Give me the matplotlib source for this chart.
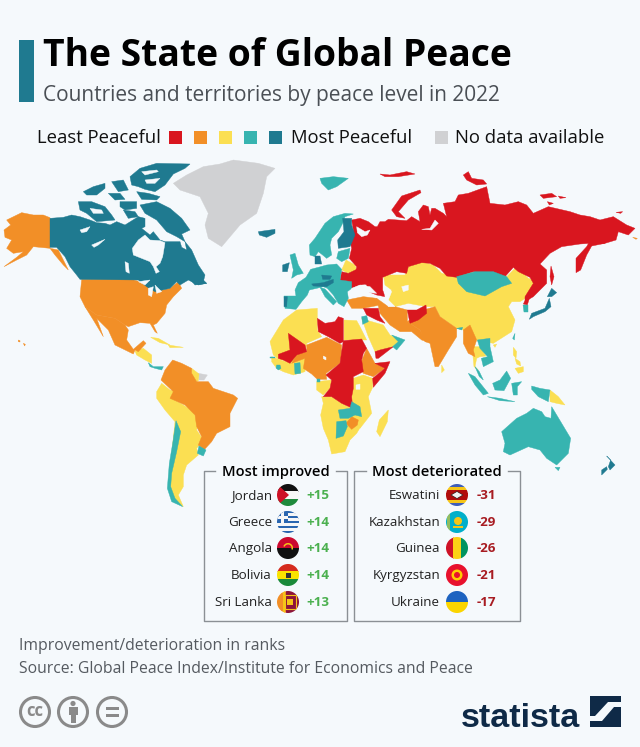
import matplotlib
matplotlib.use("Agg")
import matplotlib.pyplot as plt
from matplotlib.patches import Polygon, Circle, Rectangle, Wedge

BG = "#f5f9fc"
RED, ORG, YEL, TEA, DRK, GRY = "#d9161f", "#f28f27", "#fbdf52", "#37b4b0", "#1f7a90", "#d0d1d3"

TITLE = "The State of Global Peace"
SUBTITLE = "Countries and territories by peace level in 2022"
LEVEL_COLOURS = [RED, ORG, YEL, TEA, DRK]
IMPROVED_NAMES = ["Jordan", "Greece", "Angola", "Bolivia", "Sri Lanka"]
IMPROVED_VALUES = ["+15", "+14", "+14", "+14", "+13"]
WORSE_NAMES = ["Eswatini", "Kazakhstan", "Guinea", "Kyrgyzstan", "Ukraine"]
WORSE_VALUES = ["-31", "-29", "-26", "-21", "-17"]
NOTES = ["Improvement/deterioration in ranks",
         "Source: Global Peace Index/Institute for Economics and Peace"]

L = (0, 150); R = (320, 150); E = (270, 190); A = (260, 300); S = (140, 380); P = (400, 290)
C = (70, 160); W = (340, 170); X = (490, 190)

REGIONS_GREY = [
 (L, [(520,100),(560,75),(610,50),(660,42),(700,30),(775,40),(825,55),(800,80),(790,130),(770,190),(720,225),(665,290),(625,265),(615,225),(625,190),(600,140),(540,120)]),
 (L, [(595,670),(622,675),(612,690),(597,690)]),
]
REGIONS_DARK = [
 # Canada
 (C, [(-60,175),(-20,172),(5,165),(30,170),(60,180),(80,188),(105,190),(120,195),(140,185),(165,195),(205,170),(225,175),(225,200),(215,205),(240,225),(250,215),(270,240),(285,245),(330,245),(335,262),(350,270),(345,245),(365,270),(385,315),(405,345),(400,365),(410,370),(385,375),(355,360),(330,375),(320,365),(300,385),(255,395),(230,380),(205,360),(30,358),(20,345),(0,320),(-15,290),(-40,262),(-60,262)]),
 (C, [(180,50),(210,25),(260,10),(360,12),(345,25),(310,42),(285,75),(255,95),(225,88),(205,80),(185,75)]),
 (C, [(200,95),(235,100),(270,110),(260,120),(215,118)]),
 (C, [(210,135),(260,125),(300,145),(335,175),(360,210),(335,222),(345,245),(320,230),(290,215),(260,180),(225,160)]),
 (C, [(25,125),(65,125),(105,140),(125,165),(135,180),(80,185),(50,160),(30,150)]),
 (C, [(40,95),(70,80),(105,70),(105,85),(80,105),(50,105)]),
 (C, [(125,65),(160,60),(175,90),(145,95)]),
 (C, [(150,125),(200,125),(200,145),(165,150),(150,140)]),
 (C, [(160,150),(195,155),(205,170),(175,175)]),
 (C, [(115,100),(150,100),(165,118),(135,120)]),
 (C, [(355,352),(385,345),(410,370),(375,375)]),
 (L, [(775,245),(825,238),(825,250),(800,262),(778,255)]),
 # Japan, New Zealand
 (X, [(118,388),(125,370),(165,355),(178,325),(183,350),(165,365),(130,380)]),
 (X, [(172,320),(185,295),(200,308),(185,320)]),
 (R, [(860,918),(885,945),(870,960),(865,950),(872,930)]),
 (R, [(845,960),(860,950),(862,958),(845,975)]),
 # Europe
 (E, [(218,85),(245,85),(245,105),(255,135),(240,170),(205,175),(203,150),(222,125)]),
 (E, [(42,320),(52,320),(50,350),(42,350)]),
 (E, [(38,225),(58,218),(52,245),(38,245)]),
 (E, [(135,198),(150,198),(155,222),(135,222)]),
 (E, [(125,282),(160,278),(190,268),(190,278),(170,290),(130,288)]),
 (E, [(155,255),(185,258),(180,268),(158,268)]),
]
REGIONS_TEAL = [
 (R, [(0,85),(40,80),(85,85),(50,110),(25,120),(5,100)]),
 (E, [(118,165),(135,145),(165,100),(190,80),(225,70),(250,72),(225,80),(218,100),(205,125),(185,145),(180,165),(185,195),(170,205),(158,195),(145,185),(135,200),(120,195)]),
 (E, [(205,185),(240,175),(235,205),(215,215),(200,205)]),
 (E, [(60,195),(75,190),(85,225),(100,250),(80,255),(65,265),(70,240)]),
 (E, [(42,318),(78,318),(75,300),(85,278),(108,262),(122,238),(145,232),(170,225),(200,222),(215,238),(210,270),(245,275),(245,295),(232,305),(235,325),(222,350),(205,340),(190,315),(172,295),(160,290),(140,295),(118,300),(112,315),(95,335),(78,358),(45,355)]),
 (E, [(150,292),(165,297),(200,335),(190,345),(165,320)]),
 (R, [(410,380),(465,365),(520,365),(560,380),(575,400),(545,410),(495,438),(440,425),(415,400)]),
 (X, [(100,345),(115,345),(115,365),(102,365)]),
 (R, [(578,565),(585,550),(583,570)]),
 (R, [(410,535),(428,532),(425,540)]),
 (R, [(472,570),(510,565),(510,590),(520,635),(490,650),(484,625),(503,620),(480,595)]),
 (R, [(465,650),(478,665),(490,690),(478,680)]),
 (R, [(125,500),(140,497),(145,515),(128,523)]),
 (R, [(215,555),(255,570),(230,600),(218,590),(235,575)]),
 (R, [(545,845),(590,805),(620,790),(640,775),(665,785),(675,800),(693,805),(695,770),(725,820),(752,865),(745,910),(710,945),(680,925),(660,900),(625,890),(570,915),(550,905),(555,880)]),
 (R, [(705,952),(720,952),(715,962)]),
 (A, [(235,330),(270,325),(275,305),(300,320),(305,350),(285,345),(265,355),(240,355)]),
 (A, [(230,365),(258,362),(262,380),(250,408),(228,415)]),
 (A, [(103,190),(120,188),(122,220),(105,222)]),
 (A, [(50,195),(60,195),(63,205),(55,210),(48,204)]),
 (A, [(170,238),(180,238),(180,246),(170,246)]),
 (A, [(30,170),(45,170),(45,174),(30,174)]),
 (P, [(205,250),(225,260),(265,310),(250,315),(225,285)]),
 (P, [(262,320),(300,325),(345,335),(300,332)]),
 (P, [(320,243),(332,265),(312,302),(285,300),(278,280),(300,270)]),
 (P, [(335,280),(365,275),(352,290),(352,315),(340,315)]),
 (P, [(395,288),(420,295),(450,300),(445,335),(415,320),(395,298)]),
 (S, [(108,122),(122,155),(110,215),(95,280),(92,320),(105,355),(128,380),(95,365),(82,325),(88,250),(98,190)]),
 (S, [(177,198),(198,210),(190,228),(172,220)]),
 (L, [(445,638),(460,650),(490,650),(485,660),(465,655),(450,650)]),
]
REGIONS_YELLOW = [
 (R, [(190,375),(255,375),(265,350),(305,335),(340,345),(365,370),(410,380),(465,365),(520,365),(560,380),(590,350),(625,385),(655,395),(640,430),(600,455),(575,455),(565,470),(585,510),(575,545),(520,580),(470,570),(430,540),(410,535),(360,500),(345,470),(320,470),(265,460),(225,470),(205,450),(215,420),(195,405)]),
 (R, [(520,585),(530,582),(525,592)]),
 (R, [(460,590),(480,590),(498,618),(480,620),(470,625),(465,650),(475,660),(462,650),(458,610)]),
 (R, [(365,645),(373,660),(365,668)]),
 (R, [(125,505),(145,512),(190,525),(210,555),(240,570),(220,590),(180,600),(165,605),(145,560)]),
 (R, [(72,510),(110,512),(120,530),(140,570),(72,570)]),
 (E, [(228,210),(255,225),(260,240),(235,250),(215,240)]),
 (A, [(30,125),(70,60),(110,30),(172,25),(172,90),(185,110),(140,130),(135,155),(100,190),(70,180),(58,180),(40,165)]),
 (A, [(35,170),(60,180),(100,190),(140,160),(135,215),(100,225),(70,215),(50,205),(35,185)]),
 (A, [(280,235),(310,225),(338,235),(338,262),(325,290),(335,340),(300,385),(280,345),(275,290)]),
 (A, [(185,290),(215,290),(245,310),(275,325),(270,345),(300,345),(310,350),(302,380),(290,400),(270,420),(255,455),(215,462),(205,420),(190,385),(182,345),(190,310)]),
 (A, [(170,245),(215,240),(210,265),(190,285),(170,270)]),
 (A, [(385,330),(382,365),(360,410),(350,395),(358,360)]),
 (P, [(450,300),(475,320),(495,345),(470,340),(450,335)]),
 (P, [(340,172),(350,185),(348,205),(340,195)]),
 (P, [(345,235),(370,230),(370,245),(355,250)]),
 (P, [(345,205),(360,215),(362,228),(350,222)]),
 (S, [(50,35),(65,10),(90,30),(108,35),(95,55),(130,75),(160,95),(175,130),(170,150),(190,180),(170,205),(175,225),(140,255),(130,285),(130,320),(115,345),(130,380),(100,360),(85,320),(105,125),(75,90),(50,55)]),
 (L, [(575,655),(597,672),(595,692),(590,695),(575,675)]),
 (L, [(405,603),(430,595),(455,615),(455,640),(435,630),(410,615)]),
 (L, [(452,562),(475,565),(510,585),(480,578)]),
 (L, [(505,585),(550,592),(510,593)]),
]
REGIONS_ORANGE = [
 (L, [(150,203),(150,295),(120,292),(100,290),(80,315),(50,330),(12,350),(50,322),(70,305),(40,310),(20,295),(35,270),(15,262),(12,240),(32,225),(20,210),(65,188),(100,195),(130,195)]),
 (L, [(150,295),(175,300),(205,360),(190,345),(165,315)]),
 (L, [(245,388),(390,387),(420,395),(450,410),(470,425),(510,415),(535,395),(545,415),(520,440),(500,465),(495,490),(470,520),(460,525),(472,550),(465,545),(450,520),(420,518),(385,530),(375,525),(345,505),(290,495),(255,470),(240,440)]),
 (L, [(255,470),(290,495),(345,505),(375,525),(385,540),(380,570),(400,598),(430,572),(438,580),(415,605),(405,600),(400,612),(345,585),(325,540),(290,505),(310,560),(280,510)]),
 (L, [(483,690),(495,660),(518,630),(545,640),(575,655),(575,670),(590,695),(625,695),(640,715),(700,735),(713,745),(690,790),(690,830),(650,850),(635,875),(612,900),(595,885),(605,860),(590,830),(585,795),(555,765),(510,745),(520,725)]),
 (L, [(55,570),(60,572),(60,576),(55,575)]),
 (L, [(70,580),(76,583),(74,588)]),
 (X, [(428,142),(442,145),(438,148)]),
 (R, [(80,450),(130,440),(170,445),(180,465),(130,475),(95,475)]),
 (R, [(170,445),(205,470),(225,470),(262,480),(262,515),(300,540),(320,575),(305,570),(275,545),(240,545),(210,525),(180,490)]),
 (R, [(262,515),(310,480),(345,470),(360,500),(410,535),(410,560),(385,600),(355,650),(345,650),(330,580),(315,575),(300,540)]),
 (R, [(430,540),(450,525),(470,570),(460,600),(465,620),(445,610),(430,580)]),
 (A, [(140,135),(200,112),(245,135),(245,160),(240,190),(198,220),(200,238),(172,238),(155,222),(130,205),(135,175),(95,190),(110,165),(140,155)]),
 (A, [(320,145),(345,190),(375,205),(340,230),(310,220),(300,195)]),
 (A, [(258,370),(275,350),(295,360),(292,375),(275,388)]),
]
REGIONS_RED = [
 # Russia, crop W, the far east shifted in from crop X
 (W, [(35,150),(60,145),(85,155),(105,170),(112,170),(120,155),(135,155),(145,148),(200,152),(215,140),(240,155),(235,125),(250,105),(265,110),(270,135),(275,115),(285,115),(310,130),(320,140),(310,100),(345,95),(355,75),(385,70),(440,50),(450,100),(495,105),(535,95),(560,105),(580,130),(625,110),(690,125),(720,135),(750,140),(780,150),(820,140),(860,165),(885,175),(865,195),(835,185),(828,210),(795,220),(750,220),(720,222),(665,230),(630,250),(600,282),(620,300),(620,340),(580,380),(555,395),(555,380),(580,340),(570,322),(535,305),(520,292),(495,320),(450,315),(400,305),(350,322),(320,318),(300,295),(270,280),(245,278),(205,290),(200,310),(170,305),(128,322),(128,360),(135,380),(110,375),(85,365),(80,345),(45,320),(50,290),(28,265),(35,235),(28,205),(40,180)]),
 (X, [(345,160),(300,152),(290,170),(258,205),(258,248),(272,240),(290,195),(305,168)]),
 (X, [(183,228),(192,260),(185,285),(180,260)]),
 (W, [(155,120),(185,78),(240,60),(243,68),(205,90),(175,125),(195,145),(170,140)]),
 (W, [(120,12),(150,15),(200,5),(225,12),(175,20),(135,20)]),
 (W, [(370,15),(385,5),(395,25),(430,30),(440,42),(410,45),(380,30)]),
 (X, [(150,15),(185,10),(200,20),(160,25)]),
 (X, [(205,18),(228,23),(210,25)]),
 (X, [(172,35),(190,40),(178,45)]),
 (X, [(378,67),(398,65),(392,70)]),
 (X, [(100,342),(115,312),(122,312),(112,345)]),
 (R, [(262,480),(290,480),(318,465),(320,490),(295,510),(270,520)]),
 (R, [(130,475),(175,475),(180,500),(195,520),(170,510),(140,495)]),
 (R, [(165,605),(180,600),(220,590),(175,625),(168,625)]),
 (E, [(215,245),(235,250),(260,238),(300,260),(300,280),(270,285),(245,295),(210,270)]),
 (A, [(85,100),(135,135),(140,155),(110,165),(90,190),(70,180),(55,175),(55,163),(90,150)]),
 (A, [(172,55),(195,70),(225,65),(235,50),(250,55),(250,125),(240,130),(205,110),(175,95)]),
 (A, [(250,122),(305,117),(320,145),(310,160),(305,180),(310,215),(280,230),(280,265),(275,290),(278,325),(245,310),(215,290),(190,290),(210,265),(215,240),(198,225),(240,190),(245,155)]),
 (A, [(345,190),(390,185),(375,220),(340,262),(338,235),(375,205)]),
]
REGIONS_WATER = [
 (C, [(187,265),(205,240),(225,225),(240,240),(270,242),(285,248),(278,290),(270,310),(258,320),(268,335),(258,340),(250,320),(240,305),(215,295),(190,285)]),
 (C, [(30,210),(60,200),(50,215),(35,218)]),
 (C, [(65,255),(105,238),(85,255),(72,262)]),
 (C, [(165,305),(175,310),(178,340),(168,335)]),
 (C, [(205,365),(240,360),(225,375)]),
 (C, [(235,385),(250,380),(245,410),(235,405)]),
 (C, [(255,375),(275,395),(260,400)]),
 (C, [(215,35),(260,30),(265,35),(225,45)]),
 (C, [(225,60),(270,55),(255,70),(230,70)]),
 (C, [(60,145),(95,150),(100,160),(70,160)]),
 (R, [(195,410),(215,425),(205,450),(225,470),(205,470),(195,440)]),
 (R, [(245,410),(265,405),(265,420),(250,425)]),
 (W, [(50,170),(75,185),(90,180),(82,195),(65,200),(52,188)]),
 (W, [(245,178),(270,175),(285,150),(295,160),(275,180)]),
 (E, [(245,295),(270,285),(300,290),(320,310),(265,305),(245,320)]),
 (A, [(288,255),(300,252),(300,268),(288,268)]),
 (A, [(190,168),(198,172),(198,180),(190,176)]),
]

fig = plt.figure(figsize=(6.4, 7.47), dpi=100, facecolor=BG)
ax = fig.add_axes([0, 0, 1, 1])
ax.set_xlim(0, 640); ax.set_ylim(747, 0); ax.axis("off")
FONT = "Open Sans"

def draw_regions(regions, colour, z=2):
    for (ox, oy), pts in regions:
        xy = [(ox + x / 3, oy + y / 3) for x, y in pts]
        ax.add_patch(Polygon(xy, closed=True, fc=colour, ec=colour, lw=0.3, zorder=z))

draw_regions(REGIONS_GREY, GRY, 1.9)
draw_regions(REGIONS_YELLOW, YEL, 2)
draw_regions(REGIONS_ORANGE, ORG, 2.2)
draw_regions(REGIONS_RED, RED, 2.4)
draw_regions(REGIONS_TEAL, TEA, 2.6)
draw_regions(REGIONS_DARK, DRK, 2.8)
draw_regions(REGIONS_WATER, BG, 3)

# header
ax.add_patch(Rectangle((19, 40), 15, 62, fc=DRK, ec="none"))
ax.text(43, 66, TITLE, fontfamily=FONT, fontweight="bold", fontsize=26.85, color="#000000", va="baseline")
ax.text(43, 101, SUBTITLE, fontfamily=FONT, fontsize=15.0, color="#4a4f55", va="baseline")

# legend
LY = 137
ax.text(37, LY + 6, "Least Peaceful", fontfamily=FONT, fontsize=13.3, color="#111111", va="baseline")
for x, c in zip([168.5, 194, 219, 244, 269], LEVEL_COLOURS):
    ax.add_patch(Rectangle((x, LY - 6.5), 13, 13, fc=c, ec="none"))
ax.text(291, LY + 6, "Most Peaceful", fontfamily=FONT, fontsize=13.3, color="#111111", va="baseline")
ax.add_patch(Rectangle((435, LY - 6.5), 13, 13, fc=GRY, ec="none"))
ax.text(455, LY + 6, "No data available", fontfamily=FONT, fontsize=13.3, color="#111111", va="baseline")

# panels
ROWS = [495, 522, 548, 575, 602]
def panel(x0, x1, tx0, tx1, title):
    ax.add_patch(Rectangle((x0, 471), x1 - x0, 150, fc=BG, ec="none", zorder=4))
    ax.plot([tx0 - 6, x0, x0, x1, x1, tx1 + 6], [471, 471, 621, 621, 471, 471], color="#8b9095", lw=1, zorder=5)
    ax.text((tx0 + tx1) / 2, 476, title, ha="center", va="baseline", fontfamily=FONT, fontweight="semibold", fontsize=10.6, color="#000000", zorder=6)
panel(204, 347, 221, 330, "Most improved")
panel(354, 520, 372, 502, "Most deteriorated")

def flag(cx, cy, name):
    clip = Circle((cx, cy), 11, transform=ax.transData)
    def add(p):
        p.set_zorder(6); ax.add_patch(p); p.set_clip_path(clip)
    def hs(cols):
        h = 22 / len(cols)
        for i, c in enumerate(cols):
            add(Rectangle((cx - 11, cy - 11 + i * h), 22, h + .2, fc=c, ec="none"))
    def vs(cols):
        w = 22 / len(cols)
        for i, c in enumerate(cols):
            add(Rectangle((cx - 11 + i * w, cy - 11), w + .2, 22, fc=c, ec="none"))
    if name == "Jordan":
        hs(["#111111", "#f7f7f7", "#1f8a3c"])
        add(Polygon([(cx-11, cy-11), (cx+1, cy), (cx-11, cy+11)], fc="#ce1126", ec="none"))
    elif name == "Greece":
        hs(["#2a66b0", "#f7f7f7"] * 4 + ["#2a66b0"])
        add(Rectangle((cx-11, cy-11), 11, 12, fc="#2a66b0", ec="none"))
        add(Rectangle((cx-7, cy-11), 3, 12, fc="#f7f7f7", ec="none"))
        add(Rectangle((cx-11, cy-6.5), 11, 3, fc="#f7f7f7", ec="none"))
    elif name == "Angola":
        hs(["#cc092f", "#111111"])
        add(Wedge((cx, cy), 5, 200, 20, width=1.5, fc="#f5c518", ec="none"))
    elif name == "Bolivia":
        hs(["#d52b1e", "#f9e300", "#1a8a3a"])
        add(Rectangle((cx-2.5, cy-2.5), 5, 5, fc="#333333", ec="none"))
    elif name == "Sri Lanka":
        vs(["#f28f27", "#f28f27", "#8d153a", "#8d153a", "#8d153a"])
        add(Rectangle((cx-5, cy-11), 1.6, 22, fc="#f5c518", ec="none"))
        add(Rectangle((cx-3, cy-7), 11, 14, fc="#8d153a", ec="#f5c518", lw=.8))
        add(Rectangle((cx-1, cy-3), 6, 6, fc="#f5c518", ec="none"))
    elif name == "Eswatini":
        hs(["#3e5eb9", "#f5c518", "#b10c0c", "#b10c0c", "#b10c0c", "#f5c518", "#3e5eb9"])
        add(Polygon([(cx-6,cy),(cx,cy-3.5),(cx+6,cy),(cx,cy+3.5)], fc="#f2f2f2", ec="#111111", lw=.4))
    elif name == "Kazakhstan":
        vs(["#00afca"])
        add(Rectangle((cx-10.5, cy-11), 3, 22, fc="#f5c518", alpha=.6, ec="none"))
        add(Circle((cx+1, cy-1), 4, fc="#f5c518", ec="none"))
        add(Rectangle((cx-4, cy+4), 10, 1.5, fc="#f5c518", ec="none"))
    elif name == "Guinea":
        vs(["#ce1126", "#fcd116", "#009460"])
    elif name == "Kyrgyzstan":
        vs(["#e8112d"])
        add(Circle((cx, cy), 5.5, fc="#ffcc00", ec="none"))
        add(Circle((cx, cy), 3, fc="#e8112d", ec="none"))
    elif name == "Ukraine":
        hs(["#1e63c0", "#fbd500"])

for y, n, v in zip(ROWS, IMPROVED_NAMES, IMPROVED_VALUES):
    ax.text(272, y + 4, n, ha="right", va="baseline", fontfamily=FONT, fontsize=9.6, color="#222222", zorder=6)
    flag(288, y, n)
    ax.text(306, y + 4, v, ha="left", va="baseline", fontfamily=FONT, fontweight="bold", fontsize=9.6, color="#4bb04f", zorder=6)
for y, n, v in zip(ROWS, WORSE_NAMES, WORSE_VALUES):
    ax.text(440, y + 4, n, ha="right", va="baseline", fontfamily=FONT, fontsize=9.6, color="#222222", zorder=6)
    flag(457, y, n)
    ax.text(477, y + 4, v, ha="left", va="baseline", fontfamily=FONT, fontweight="bold", fontsize=9.6, color="#a81c22", zorder=6)

# notes
ax.text(19, 650, NOTES[0], fontfamily=FONT, fontsize=11.3, color="#555a60", va="baseline")
ax.text(19, 673, NOTES[1], fontfamily=FONT, fontsize=11.3, color="#555a60", va="baseline")

# licence icons
IC = "#8a8a8a"
for cx in (35, 73, 112):
    ax.add_patch(Circle((cx, 712), 14.5, fc="none", ec=IC, lw=2.2))
ax.text(35, 711, "cc", ha="center", va="center", fontfamily=FONT, fontweight="bold", fontsize=12, color=IC)
ax.add_patch(Circle((73, 703.5), 2.6, fc=IC, ec="none"))
ax.add_patch(Rectangle((68.5, 707), 9, 8, fc=IC, ec="none"))
ax.add_patch(Rectangle((70.5, 715), 5, 8, fc=IC, ec="none"))
ax.add_patch(Rectangle((105.5, 706.5), 13, 3.2, fc=IC, ec="none"))
ax.add_patch(Rectangle((105.5, 713.5), 13, 3.2, fc=IC, ec="none"))

# logo
NAVY = "#0f2a47"
ax.text(461, 727, "statista", fontfamily="Liberation Sans", fontweight="bold", fontsize=24.6, color=NAVY, va="baseline")
ax.add_patch(Polygon([(590,696),(621,696),(621,702),(608,702),(595,716),(590,716)], fc=NAVY, ec="none"))
ax.add_patch(Polygon([(590,727),(621,727),(621,707),(614,707),(602,721),(590,721)], fc=NAVY, ec="none"))

fig.savefig("out.png", dpi=100, facecolor=BG)
